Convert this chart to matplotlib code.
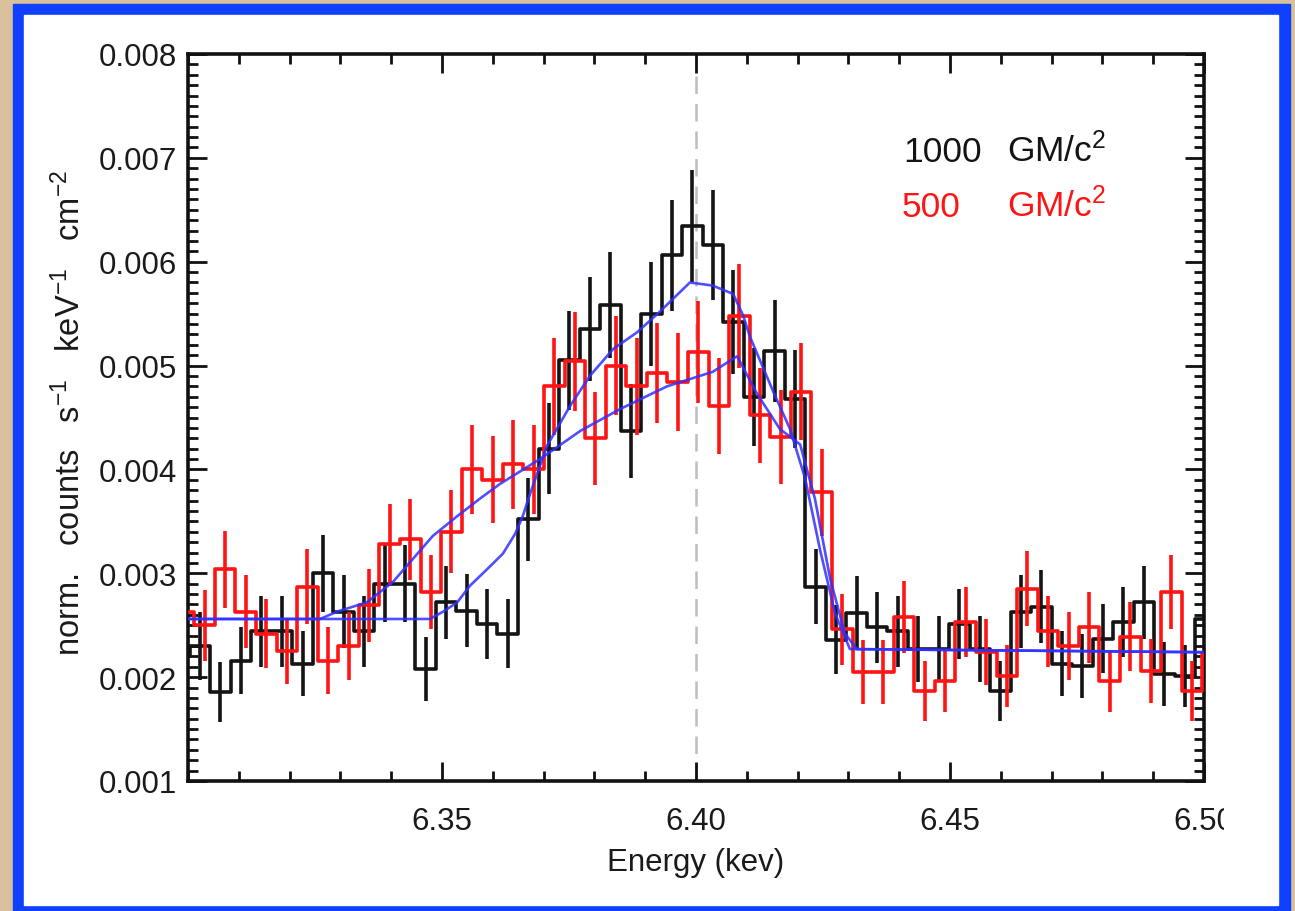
import numpy as np
import matplotlib
matplotlib.use("Agg")
import matplotlib.pyplot as plt
from matplotlib.patches import Rectangle
from matplotlib.ticker import MultipleLocator, FixedLocator, FormatStrFormatter
from matplotlib.transforms import Bbox, TransformedBbox

W, H = 1295, 912

# energy grids of the two binned spectra (keV)
black_start, black_step = 6.2983, 0.00404
red_start, red_step = 6.2992, 0.00405

# 1000 GM/c^2 spectrum
flux_1000 = [0.00220, 0.00230, 0.00186, 0.00216, 0.00244, 0.00244, 0.00213, 0.00300,
             0.00263, 0.00244, 0.00290, 0.00290, 0.00208, 0.00272, 0.00264, 0.00251,
             0.00242, 0.00352, 0.00420, 0.00505, 0.00535, 0.00558, 0.00437, 0.00550,
             0.00606, 0.00634, 0.00616, 0.00542, 0.00470, 0.00514, 0.00468, 0.00287,
             0.00236, 0.00262, 0.00248, 0.00244, 0.00227, 0.00227, 0.00251, 0.00227,
             0.00187, 0.00263, 0.00268, 0.00213, 0.00211, 0.00237, 0.00253, 0.00272,
             0.00203, 0.00201, 0.00256]
err_1000 = [0.00032, 0.00033, 0.00029, 0.00032, 0.00034, 0.00034, 0.00031, 0.00037,
            0.00035, 0.00034, 0.00037, 0.00037, 0.00031, 0.00035, 0.00035, 0.00034,
            0.00033, 0.00040, 0.00044, 0.00048, 0.00050, 0.00051, 0.00045, 0.00050,
            0.00053, 0.00054, 0.00053, 0.00050, 0.00047, 0.00049, 0.00047, 0.00036,
            0.00033, 0.00035, 0.00034, 0.00034, 0.00032, 0.00032, 0.00034, 0.00032,
            0.00029, 0.00035, 0.00035, 0.00031, 0.00031, 0.00033, 0.00034, 0.00035,
            0.00031, 0.00030, 0.00034]

# 500 GM/c^2 spectrum
flux_500 = [0.00263, 0.00250, 0.00304, 0.00263, 0.00242, 0.00225, 0.00287, 0.00216,
            0.00230, 0.00269, 0.00328, 0.00333, 0.00282, 0.00340, 0.00400, 0.00390,
            0.00405, 0.00400, 0.00480, 0.00504, 0.00430, 0.00500, 0.00480, 0.00493,
            0.00484, 0.00513, 0.00461, 0.00548, 0.00452, 0.00431, 0.00475, 0.00378,
            0.00246, 0.00205, 0.00205, 0.00258, 0.00187, 0.00196, 0.00253, 0.00224,
            0.00201, 0.00285, 0.00244, 0.00230, 0.00248, 0.00196, 0.00239, 0.00206,
            0.00282, 0.00187, 0.00222]
err_500 = [0.00035, 0.00034, 0.00037, 0.00035, 0.00033, 0.00032, 0.00036, 0.00032,
           0.00033, 0.00035, 0.00039, 0.00039, 0.00036, 0.00040, 0.00043, 0.00042,
           0.00043, 0.00043, 0.00047, 0.00048, 0.00045, 0.00048, 0.00047, 0.00048,
           0.00047, 0.00049, 0.00046, 0.00050, 0.00046, 0.00045, 0.00047, 0.00042,
           0.00034, 0.00031, 0.00031, 0.00035, 0.00029, 0.00030, 0.00034, 0.00032,
           0.00030, 0.00036, 0.00034, 0.00033, 0.00034, 0.00030, 0.00033, 0.00031,
           0.00036, 0.00029, 0.00032]

# model line profiles
model_1000_e = [6.3000, 6.3476, 6.3502, 6.3530, 6.3555, 6.3589, 6.3620, 6.3644, 6.3659,
                6.3673, 6.3707, 6.3752, 6.3791, 6.3837, 6.3884, 6.3929, 6.3988, 6.4033,
                6.4073, 6.4093, 6.4106, 6.4152, 6.4185, 6.4215, 6.4244, 6.4274, 6.4303,
                6.5000]
model_1000_f = [0.00256, 0.00256, 0.00263, 0.00272, 0.00288, 0.00304, 0.00319, 0.00338,
                0.00355, 0.00376, 0.00423, 0.00461, 0.00490, 0.00516, 0.00532, 0.00552,
                0.00580, 0.00577, 0.00569, 0.00548, 0.00528, 0.00475, 0.00439, 0.00391,
                0.00323, 0.00261, 0.00227, 0.00224]
model_500_e = [6.3000, 6.3260, 6.3293, 6.3352, 6.3404, 6.3443, 6.3482, 6.3530, 6.3575,
               6.3614, 6.3693, 6.3772, 6.3850, 6.3943, 6.4033, 6.4081, 6.4120, 6.4165,
               6.4205, 6.4234, 6.4264, 6.4293, 6.4317, 6.5000]
model_500_f = [0.00256, 0.00256, 0.00263, 0.00272, 0.00292, 0.00314, 0.00336, 0.00355,
               0.00372, 0.00386, 0.00410, 0.00437, 0.00458, 0.00480, 0.00494, 0.00509,
               0.00473, 0.00439, 0.00424, 0.00372, 0.00295, 0.00242, 0.00227, 0.00224]

line_energy = 6.40
xticks = [6.35, 6.40, 6.45, 6.50]
xtick_labels = ["6.35", "6.40", "6.45", "6.50"]
yticks = [0.001, 0.002, 0.003, 0.004, 0.005, 0.006, 0.007, 0.008]

plt.rcParams["font.family"] = ["Liberation Sans", "DejaVu Sans"]
plt.rcParams["mathtext.fontset"] = "custom"
plt.rcParams["mathtext.rm"] = "Liberation Sans"
plt.rcParams["mathtext.it"] = "Liberation Sans:italic"


def fx(x):
    return x / W


def fy(y):
    return 1 - y / H


fig = plt.figure(figsize=(W / 100, H / 100), dpi=100)
fig.patch.set_facecolor("#d8c09c")
# blue frame with white panel
fig.add_artist(Rectangle((fx(13), 0), fx(1290) - fx(13), fy(5), color="#1040ff", zorder=-3))
fig.add_artist(Rectangle((fx(24), fy(906)), fx(1278) - fx(24), fy(16) - fy(906),
                         color="white", zorder=-2))

ax = fig.add_axes([fx(188), fy(782), fx(1204) - fx(188), fy(55) - fy(782)])
ax.set_facecolor("white")

e_black = black_start + black_step * np.arange(len(flux_1000))
e_red = red_start + red_step * np.arange(len(flux_500))
f_black = np.array(flux_1000)
f_red = np.array(flux_500)

ax.axvline(line_energy, color="#bdbdbd", lw=1.8, ls=(0, (7, 4)), zorder=1)

ax.step(e_black, f_black, where="mid", color="#141414", lw=2.6, zorder=2)
ax.vlines(e_black, f_black - np.array(err_1000), f_black + np.array(err_1000),
          color="#141414", lw=2.6, zorder=2)

ax.step(e_red, f_red, where="mid", color="#ff1414", lw=2.6, zorder=3)
ax.vlines(e_red, f_red - np.array(err_500), f_red + np.array(err_500),
          color="#ff1414", lw=2.6, zorder=3)

ax.plot(model_1000_e, model_1000_f, color="#3030ff", lw=1.9, alpha=0.85, zorder=4)
ax.plot(model_500_e, model_500_f, color="#3030ff", lw=1.9, alpha=0.85, zorder=4)

ax.set_xlim(6.30, 6.50)
ax.set_ylim(0.001, 0.008)

ax.xaxis.set_major_locator(FixedLocator(xticks))
ax.set_xticklabels(xtick_labels)
ax.xaxis.set_minor_locator(MultipleLocator(0.01))
ax.yaxis.set_major_locator(FixedLocator(yticks))
ax.yaxis.set_major_formatter(FormatStrFormatter("%.3f"))
ax.yaxis.set_minor_locator(MultipleLocator(0.0001))

ax.tick_params(which="both", direction="in", top=True, right=True, width=2.0,
               labelsize=22.5, color="#111111", labelcolor="#1a1a1a")
ax.tick_params(which="major", length=14)
ax.tick_params(which="minor", length=7.5)
ax.tick_params(axis="x", pad=18)
ax.tick_params(axis="y", pad=8)
for sp in ax.spines.values():
    sp.set_linewidth(2.6)
    sp.set_color("#111111")

# the last energy label runs into the panel edge
clip = TransformedBbox(Bbox([[0, 0], [fx(1224), 1]]), fig.transFigure)
for t in ax.xaxis.get_major_ticks():
    t.label1.set_clip_box(clip)
    t.label1.set_clip_on(True)

fig.text(fx(696), fy(863), "Energy (kev)", fontsize=22.5, color="#1a1a1a",
         ha="center", va="center")
fig.text(fx(70), fy(413),
         r"norm.   counts   s$^{-1}$   keV$^{-1}$   cm$^{-2}$",
         fontsize=23.5, color="#1a1a1a", rotation=90, ha="center", va="center")

fig.text(fx(903), fy(162), "1000", fontsize=25.5, color="#141414", va="baseline")
fig.text(fx(1007), fy(162), r"GM/c$^2$", fontsize=25.5, color="#141414", va="baseline")
fig.text(fx(902), fy(217), "500", fontsize=25.5, color="#ff1414", va="baseline")
fig.text(fx(1007), fy(217), r"GM/c$^2$", fontsize=25.5, color="#ff1414", va="baseline")

fig.savefig("out.png", dpi=100, facecolor=fig.get_facecolor())
